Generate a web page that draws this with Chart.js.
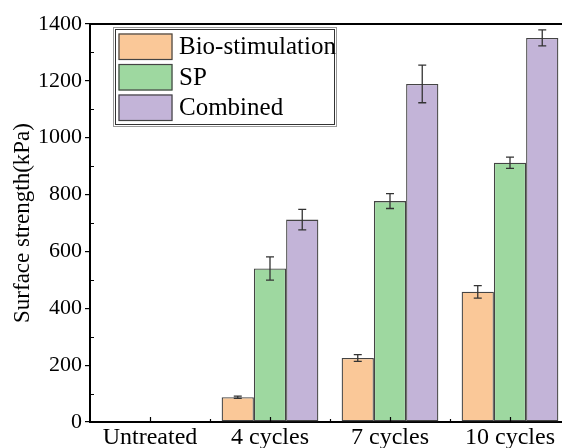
<!DOCTYPE html>
<html>
<head>
<meta charset="utf-8">
<script src="https://cdn.jsdelivr.net/npm/chart.js@4.4.1/dist/chart.umd.min.js"></script>
<style>
html,body{margin:0;padding:0;background:#fff;overflow:hidden;font-family:'Liberation Serif',serif;}
#wrap{width:600px;height:448px;position:relative;}
</style>
</head>
<body>
<div id="wrap"><canvas id="c" width="600" height="448"></canvas></div>
<script>
const categories = ["Untreated", "4 cycles", "7 cycles", "10 cycles"];
const seriesNames = ["Bio-stimulation", "SP", "Combined"];
const bioValues = [null, 87, 225, 458];
const bioErrors = [null, 4, 12, 22];
const spValues = [null, 540, 777, 912];
const spErrors = [null, 41, 26, 20];
const combinedValues = [null, 712, 1189, 1351];
const combinedErrors = [null, 36, 66, 28];
const yTicks = [0, 200, 400, 600, 800, 1000, 1200, 1400];
const yMinorTicks = [100, 300, 500, 700, 900, 1100, 1300];

const colors = ["#FAC898", "#9ED8A0", "#C3B4D8"];
const errs = [bioErrors, spErrors, combinedErrors];
const FONT = "'Liberation Serif', 'Times New Roman', serif";
Chart.defaults.font.family = FONT;
Chart.defaults.color = '#000';

const extras = {
  id: 'extras',
  afterDatasetsDraw(chart) {
    const ctx = chart.ctx;
    const ys = chart.scales.y, xs = chart.scales.x;
    const a = chart.chartArea;
    ctx.save();
    // error bars
    ctx.strokeStyle = '#333';
    ctx.lineWidth = 1.3;
    chart.data.datasets.forEach((ds, di) => {
      const meta = chart.getDatasetMeta(di);
      meta.data.forEach((bar, i) => {
        const v = ds.data[i], e = errs[di][i];
        if (v == null || e == null) return;
        const x = bar.x;
        const yt = ys.getPixelForValue(v + e), yb = ys.getPixelForValue(v - e);
        ctx.beginPath();
        ctx.moveTo(x, yt); ctx.lineTo(x, yb);
        ctx.moveTo(x - 4, yt); ctx.lineTo(x + 4, yt);
        ctx.moveTo(x - 4, yb); ctx.lineTo(x + 4, yb);
        ctx.stroke();
      });
    });
    // frame: top line
    ctx.strokeStyle = '#000';
    ctx.lineWidth = 2;
    ctx.beginPath();
    ctx.moveTo(a.left, a.top); ctx.lineTo(a.right, a.top);
    ctx.stroke();
    // y minor ticks (inward)
    ctx.lineWidth = 1.2;
    ctx.beginPath();
    yMinorTicks.forEach(t => {
      const y = Math.round(ys.getPixelForValue(t)) + 0.5;
      ctx.moveTo(a.left, y); ctx.lineTo(a.left + 4, y);
    });
    // x ticks inward
    categories.forEach((c, i) => {
      const x = Math.round(xs.getPixelForValue(i)) + 0.5;
      ctx.moveTo(x, a.bottom); ctx.lineTo(x, a.bottom - 5);
      const xb = Math.round(xs.getPixelForValue(i - 0.5)) + 0.5;
      if (i > 0) { ctx.moveTo(xb, a.bottom); ctx.lineTo(xb, a.bottom - 3); }
    });
    ctx.stroke();
    // legend
    const lx = 114, ly = 28, lw = 222, lh = 98;
    ctx.strokeStyle = '#999';
    ctx.lineWidth = 1;
    ctx.strokeRect(lx - 0.5, ly - 0.5, lw + 1, lh + 1);
    ctx.strokeStyle = '#333';
    ctx.strokeRect(lx + 1.5, ly + 1.5, lw - 3, lh - 3);
    ctx.font = "25px " + FONT;
    ctx.textBaseline = 'middle';
    ctx.textAlign = 'left';
    seriesNames.forEach((n, i) => {
      const sy = ly + 5.5 + i * 30.5;
      ctx.fillStyle = colors[i];
      ctx.fillRect(lx + 4.5, sy, 54, 26.5);
      ctx.strokeStyle = '#444';
      ctx.lineWidth = 1.2;
      ctx.strokeRect(lx + 5, sy + 0.5, 53, 25.5);
      ctx.fillStyle = '#000';
      ctx.fillText(n, lx + 65, sy + 14);
    });
    ctx.restore();
  }
};

new Chart(document.getElementById('c'), {
  type: 'bar',
  data: {
    labels: categories,
    datasets: [
      { label: seriesNames[0], data: bioValues, backgroundColor: colors[0] },
      { label: seriesNames[1], data: spValues, backgroundColor: colors[1] },
      { label: seriesNames[2], data: combinedValues, backgroundColor: colors[2] }
    ].map(d => Object.assign(d, { borderColor: '#444', borderWidth: 1.3, borderSkipped: false, barPercentage: 1, categoryPercentage: 0.806 }))
  },
  options: {
    responsive: false,
    animation: false,
    layout: { padding: { left: 0, top: 24, right: 30, bottom: 0 } },
    plugins: { legend: { display: false }, tooltip: { enabled: false } },
    scales: {
      x: {
        grid: { display: true, drawOnChartArea: false, drawTicks: false, color: '#000' },
        border: { display: true, color: '#000', width: 2 },
        ticks: { color: '#000', font: { family: FONT, size: 24 }, padding: 1, maxRotation: 0 },
        afterFit(s) { s.height = 26; }
      },
      y: {
        min: 0, max: 1400,
        afterBuildTicks(s) { s.ticks = yTicks.map(v => ({ value: v })); },
        grid: { drawOnChartArea: false, drawTicks: true, tickLength: 5, color: '#000', lineWidth: 1.2 },
        border: { display: true, color: '#000', width: 2 },
        ticks: { color: '#000', font: { family: FONT, size: 22 }, padding: 3, callback: v => String(v) },
        title: { display: true, text: 'Surface strength(kPa)', color: '#000', font: { family: FONT, size: 23 }, padding: { top: 9, bottom: 0 } },
        afterFit(s) { s.width = 90; }
      }
    }
  },
  plugins: [extras]
});
</script>
</body>
</html>
